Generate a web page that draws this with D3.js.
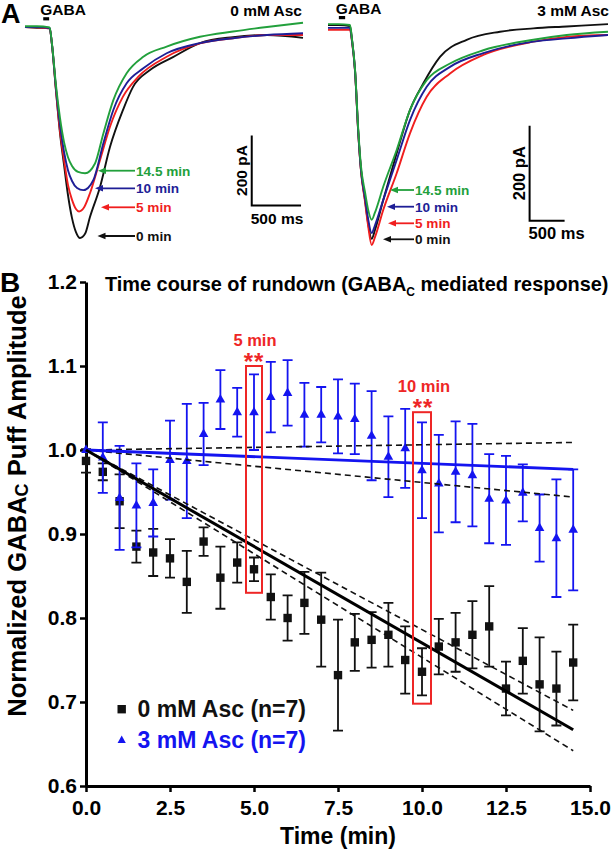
<!DOCTYPE html>
<html><head><meta charset="utf-8">
<script src="https://cdn.jsdelivr.net/npm/d3@7"></script>
<style>
body{margin:0;background:#fff}
svg{display:block;font-family:"Liberation Sans",Arial,Helvetica,sans-serif;font-weight:bold}
</style>
</head><body>
<svg id="c" width="614" height="852"></svg>
<script>
// ---------------- Panel A data: current traces [time (ms), current (pA)] ----------------
const traceNames = ["0 min", "5 min", "10 min", "14.5 min"];
const traceColors = ["#111111", "#f01e1e", "#1e1e96", "#22a03c"];

const left0 = [[0,0],[120,-2],[250,-4],[274,-51],[314,-180],[355,-303],[396,-394],[436,-480],[477,-546],[517,-586],[558,-603],[609,-591],[659,-543],[761,-457],[862,-343],[994,-237],[1096,-171],[1268,-123],[1501,-86],[1775,-46],[2110,-29],[2455,-23],[2820,-31]];
const left5 = [[0,0],[120,-1],[250,-4],[274,-51],[314,-180],[355,-297],[396,-380],[436,-451],[477,-494],[517,-520],[548,-527],[600,-515],[659,-475],[761,-380],[862,-285],[994,-199],[1150,-142],[1437,-85],[1775,-47],[2110,-32],[2455,-23],[2820,-23]];
const left10 = [[0,0],[120,0],[250,-3],[274,-51],[314,-174],[355,-280],[396,-357],[436,-409],[477,-440],[528,-460],[591,-466],[694,-437],[795,-332],[896,-237],[1031,-161],[1200,-118],[1437,-75],[1775,-46],[2110,-32],[2455,-23],[2820,-18]];
const left145 = [[0,2],[120,2],[250,-1],[274,-49],[314,-166],[355,-260],[396,-329],[436,-372],[477,-397],[538,-414],[609,-418],[710,-390],[795,-304],[896,-209],[1031,-132],[1200,-85],[1437,-56],[1775,-28],[2110,-13],[2455,0],[2820,12]];

const right0 = [[0,2],[150,2],[314,0],[343,-29],[386,-93],[433,-225],[471,-303],[529,-366],[571,-413],[624,-448],[670,-430],[790,-366],[981,-268],[1171,-177],[1361,-121],[1600,-65],[1981,-29],[2457,-12],[2933,-5],[3410,-1],[4000,4]];
const right5 = [[0,-8],[150,-8],[314,-8],[343,-33],[386,-95],[433,-227],[471,-305],[529,-370],[571,-418],[624,-461],[670,-445],[790,-387],[981,-310],[1171,-226],[1410,-149],[1743,-100],[2219,-61],[2933,-33],[3410,-23],[4000,-19]];
const right10 = [[0,-4],[150,-4],[314,-4],[343,-31],[386,-94],[433,-225],[471,-302],[529,-362],[571,-404],[624,-436],[670,-420],[790,-366],[981,-282],[1171,-198],[1410,-128],[1743,-86],[2219,-57],[2933,-33],[3410,-26],[4000,-19]];
const right145 = [[0,4],[150,4],[314,2],[343,-28],[386,-91],[433,-220],[471,-295],[529,-350],[571,-385],[624,-408],[670,-393],[790,-338],[981,-261],[1171,-177],[1410,-114],[1743,-79],[2219,-51],[2933,-29],[3410,-19],[4000,-12]];

const gabaPuffLeft = [185, 245];   // ms
const gabaPuffRight = [155, 245];  // ms
const scaleBarMs = 500, scaleBarPa = 200;

// ---------------- Panel B data ----------------
const times = [0,0.5,1,1.5,2,2.5,3,3.5,4,4.5,5,5.5,6,6.5,7,7.5,8,8.5,9,9.5,10,10.5,11,11.5,12,12.5,13,13.5,14,14.5];
const asc0Mean = [0.987,0.974,0.939,0.885,0.878,0.871,0.843,0.891,0.848,0.866,0.858,0.825,0.800,0.818,0.798,0.732,0.771,0.774,0.780,0.750,0.736,0.766,0.771,0.780,0.790,0.716,0.749,0.721,0.716,0.747];
const asc0Sem  = [0.014,0.010,0.032,0.019,0.028,0.023,0.037,0.017,0.037,0.024,0.014,0.027,0.027,0.037,0.056,0.066,0.034,0.033,0.038,0.040,0.028,0.033,0.035,0.040,0.048,0.032,0.039,0.056,0.044,0.045];
const asc3Mean = [1.000,0.991,0.943,0.934,0.937,0.988,0.987,1.019,1.060,1.045,1.045,1.063,1.068,1.042,1.042,1.040,1.037,1.017,0.992,1.002,0.976,0.960,0.974,0.970,0.942,0.940,0.949,0.907,0.895,0.905];
const asc3Sem  = [0.000,0.042,0.062,0.050,0.040,0.047,0.068,0.037,0.035,0.029,0.045,0.042,0.039,0.038,0.033,0.044,0.042,0.053,0.048,0.047,0.057,0.058,0.060,0.061,0.053,0.053,0.034,0.040,0.070,0.072];

const fitX = [0, 14.5];
const fit0 = [1.0, 0.667], fit0Upper = [1.0, 0.690], fit0Lower = [1.0, 0.642];
const fit3 = [1.0, 0.977], fit3Upper = [1.0, 1.009], fit3Lower = [1.0, 0.944];

const sigTimes = [5, 10];
const sigLabels = ["5 min", "10 min"];
const sigBoxTop = [1.100, 1.045];
const sigBoxBottom = [0.830, 0.698];

const yTicks = [0.6,0.7,0.8,0.9,1.0,1.1,1.2];
const xTicks = [0,2.5,5,7.5,10,12.5,15];

const BLUE = "#1414f0", RED = "#ee2626";

const svg = d3.select("#c");

// ================= PANEL A =================
svg.append("text").attr("x",1).attr("y",23).attr("font-size",27).text("A");

function tracePanel(cfg){
  const g = svg.append("g");
  const x = d3.scaleLinear().domain([0, cfg.tMax]).range(cfg.xr);
  const y = d3.scaleLinear().domain([0, cfg.iMin]).range(cfg.yr);
  const line = d3.line().x(d => x(d[0])).y(d => y(d[1])).curve(d3.curveMonotoneX);
  cfg.traces.forEach((tr, i) => {
    g.append("path").attr("d", line(tr)).attr("fill","none")
      .attr("stroke", traceColors[i]).attr("stroke-width", 1.9).attr("stroke-linejoin","round");
  });
  // GABA puff bar
  g.append("rect").attr("x", x(cfg.puff[0])).attr("width", x(cfg.puff[1]) - x(cfg.puff[0]))
    .attr("y", cfg.puffY).attr("height", 3.2).attr("fill","#000");
  g.append("text").attr("x", x(cfg.puff[0]) - 3).attr("y", cfg.gabaY).attr("font-size",15.5).text("GABA");
  g.append("text").attr("x", cfg.condX).attr("y", 16).attr("text-anchor","end").attr("font-size",15.5).text(cfg.cond);
  // scale bar
  const sx0 = x(cfg.barT), sx1 = x(cfg.barT + scaleBarMs);
  const sy0 = y(cfg.barI), sy1 = y(cfg.barI - scaleBarPa);
  g.append("path").attr("d", `M${sx0},${sy0}V${sy1}H${sx1}`).attr("fill","none").attr("stroke","#000").attr("stroke-width",2);
  g.append("text").attr("transform", `translate(${sx0 - 5},${(sy0+sy1)/2}) rotate(-90)`)
    .attr("text-anchor","middle").attr("font-size",cfg.barFont).text(scaleBarPa + " pA");
  g.append("text").attr("x", sx0 - 1).attr("y", sy1 + 18).attr("font-size",cfg.barFont).text(scaleBarMs + " ms");
  // arrows & labels
  cfg.labels.forEach((l, i) => {
    const c = traceColors[i];
    g.append("line").attr("x1", l.hx + 5).attr("x2", cfg.tail).attr("y1", l.y).attr("y2", l.y)
      .attr("stroke", c).attr("stroke-width", 1.8);
    g.append("path").attr("d", `M${l.hx},${l.y}L${l.hx+8},${l.y-3.2}L${l.hx+8},${l.y+3.2}Z`).attr("fill", c);
    g.append("text").attr("x", cfg.textX).attr("y", l.y + 5).attr("font-size", 13.6).attr("fill", c).text(traceNames[i]);
  });
}

tracePanel({
  tMax: 2820, iMin: -600, xr: [25, 303], yr: [27, 237],
  traces: [left0, left5, left10, left145], puff: gabaPuffLeft, puffY: 17.2, gabaY: 15,
  cond: "0 mM Asc", condX: 302, barT: 2300, barI: -310, barFont: 15.5,
  tail: 135, textX: 136,
  labels: [{y:236, hx:97.5},{y:207.3, hx:101},{y:188.3, hx:95},{y:170.7, hx:98}]
});
tracePanel({
  tMax: 4000, iMin: -450, xr: [328, 608], yr: [26, 239.75],
  traces: [right0, right5, right10, right145], puff: gabaPuffRight, puffY: 16, gabaY: 14,
  cond: "3 mM Asc", condX: 609, barT: 2880, barI: -210, barFont: 16.5,
  tail: 414, textX: 415,
  labels: [{y:239.3, hx:383},{y:223.3, hx:388},{y:206.7, hx:387},{y:190, hx:390}]
});

// ================= PANEL B =================
const xB = d3.scaleLinear().domain([0, 15]).range([86, 590]);
const yB = d3.scaleLinear().domain([0.6, 1.2]).range([786, 282]);

svg.append("text").attr("x",0).attr("y",292).attr("font-size",28).text("B");

const gB = svg.append("g");

// axes
const yAxis = gB.append("g").attr("transform","translate(86,0)")
  .call(d3.axisLeft(yB).tickValues(yTicks).tickFormat(d3.format(".1f")).tickSize(6).tickSizeOuter(0).tickPadding(3));
const xAxis = gB.append("g").attr("transform","translate(0,786)")
  .call(d3.axisBottom(xB).tickValues(xTicks).tickFormat(d3.format(".1f")).tickSize(6).tickSizeOuter(0).tickPadding(8));
[yAxis, xAxis].forEach(a => {
  a.select(".domain").attr("stroke","#000").attr("stroke-width",3);
  a.selectAll(".tick line").attr("stroke","#000").attr("stroke-width",2.5);
  a.selectAll(".tick text").attr("fill","#000").attr("font-size",21).attr("font-weight","bold")
    .attr("font-family",'"Liberation Sans",Arial,sans-serif');
});

// title
const title = svg.append("text").attr("x",105).attr("y",290.5).attr("font-size",19.9);
title.append("tspan").text("Time course of rundown (GABA");
title.append("tspan").attr("font-size",12).attr("dy",5).text("C");
title.append("tspan").attr("dy",-5).text(" mediated response)");

// y label
const yl = svg.append("text").attr("transform","translate(26,506) rotate(-90)").attr("text-anchor","middle").attr("font-size",25.6);
yl.append("tspan").text("Normalized GABA");
yl.append("tspan").attr("font-size",18).attr("dy",2).text("C");
yl.append("tspan").attr("dy",-2).text(" Puff Amplitude");

// x label
svg.append("text").attr("x",338).attr("y",844).attr("text-anchor","middle").attr("font-size",23).text("Time (min)");

// error bars + markers
function series(mean, sem, color, shape){
  const g = gB.append("g");
  times.forEach((t, i) => {
    if (sem[i] > 0) {
      const x = xB(t), y1 = yB(mean[i] + sem[i]), y2 = yB(mean[i] - sem[i]);
      g.append("path").attr("d", `M${x},${y1}V${y2}M${x-5},${y1}H${x+5}M${x-5},${y2}H${x+5}`)
        .attr("stroke", color).attr("stroke-width", 1.8).attr("fill","none");
    }
  });
  times.forEach((t, i) => {
    const x = xB(t), y = yB(mean[i]);
    if (shape === "square") {
      g.append("rect").attr("x", x-4.2).attr("y", y-4.2).attr("width",8.4).attr("height",8.4).attr("fill",color);
    } else {
      g.append("path").attr("d", `M${x},${y-5.5}L${x+4.8},${y+3}L${x-4.8},${y+3}Z`).attr("fill",color);
    }
  });
}
series(asc0Mean, asc0Sem, "#111111", "square");
series(asc3Mean, asc3Sem, BLUE, "triangle");

// regression lines
const fl = (vals) => d3.line().x((d,i) => xB(fitX[i])).y(d => yB(d))(vals);
[fit0Upper, fit0Lower, fit3Upper, fit3Lower].forEach(v => {
  gB.append("path").attr("d", fl(v)).attr("stroke","#111").attr("stroke-width",1.6)
    .attr("stroke-dasharray","6,4").attr("fill","none");
});
gB.append("path").attr("d", fl(fit3)).attr("stroke", BLUE).attr("stroke-width",2.8).attr("fill","none");
gB.append("path").attr("d", fl(fit0)).attr("stroke", "#000").attr("stroke-width",3).attr("fill","none");

// significance boxes
sigTimes.forEach((t, i) => {
  const x = xB(t);
  const yt = yB(sigBoxTop[i]), yb = yB(sigBoxBottom[i]);
  const w = i === 0 ? 16 : 18;
  gB.append("rect").attr("x", x - w/2).attr("y", yt).attr("width", w).attr("height", yb - yt)
    .attr("fill","none").attr("stroke", RED).attr("stroke-width",2);
  gB.append("text").attr("x", x + (i===0?1:2)).attr("y", yt - 20).attr("text-anchor","middle")
    .attr("font-size",16.5).attr("fill",RED).text(sigLabels[i]);
  gB.append("text").attr("x", x + (i===0?0:1)).attr("y", yt + 4).attr("text-anchor","middle")
    .attr("font-size",24).attr("letter-spacing",1).attr("fill",RED).text("**");
});

// legend
const lg = svg.append("g");
lg.append("rect").attr("x",117.5).attr("y",705).attr("width",8.4).attr("height",8.4).attr("fill","#111");
lg.append("text").attr("x",137.5).attr("y",716.5).attr("font-size",23).attr("fill","#111").text("0 mM Asc (n=7)");
lg.append("path").attr("d","M121.7,735.5L125.8,743L117.6,743Z").attr("fill",BLUE);
lg.append("text").attr("x",137.5).attr("y",748).attr("font-size",23).attr("fill",BLUE).text("3 mM Asc (n=7)");
</script>
</body></html>
